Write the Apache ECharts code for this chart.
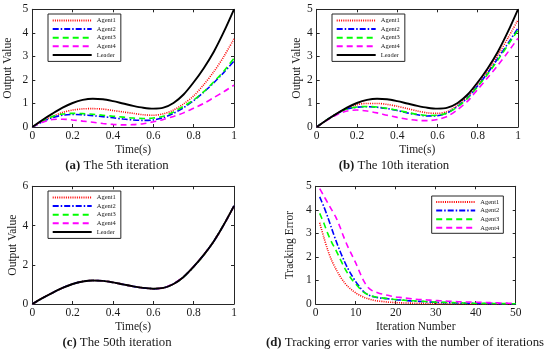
<!DOCTYPE html>
<html><head><meta charset="utf-8">
<script src="https://cdn.jsdelivr.net/npm/echarts@6/dist/echarts.min.js"></script>
<style>html,body{margin:0;padding:0;background:#fff}#c{width:550px;height:354px}</style>
</head><body><div id="c"></div>
<script>
// ---- data ----
const TIME = [0,0.05,0.1,0.15,0.2,0.25,0.3,0.35,0.4,0.45,0.5,0.55,0.6,0.65,0.7,0.75,0.8,0.85,0.9,0.95,1];
const LEADER = [0,0.3,0.57,0.82,1.02,1.15,1.2,1.18,1.1,1.0,0.9,0.82,0.78,0.82,1.02,1.38,1.9,2.5,3.2,4.05,5.0];

// (a) 5th iteration
const IT5_AGENT1 = [0,0.25,0.45,0.62,0.72,0.77,0.78,0.76,0.7,0.64,0.58,0.52,0.5,0.56,0.72,0.98,1.32,1.8,2.35,3.0,3.75];
const IT5_AGENT2 = [0,0.22,0.4,0.5,0.53,0.52,0.48,0.44,0.39,0.34,0.3,0.28,0.3,0.4,0.58,0.82,1.12,1.48,1.88,2.32,2.8];
const IT5_AGENT3 = [0,0.24,0.45,0.55,0.58,0.57,0.54,0.5,0.46,0.42,0.38,0.36,0.38,0.46,0.64,0.88,1.15,1.5,1.92,2.38,2.92];
const IT5_AGENT4 = [0,0.2,0.32,0.33,0.3,0.25,0.2,0.15,0.11,0.09,0.1,0.14,0.22,0.32,0.45,0.6,0.8,1.0,1.25,1.5,1.78];

// (b) 10th iteration
const IT10_AGENT1 = [0,0.3,0.57,0.8,0.95,1.0,1.0,0.96,0.88,0.78,0.68,0.6,0.58,0.66,0.93,1.3,1.8,2.38,3.05,3.78,4.55];
const IT10_AGENT2 = [0,0.3,0.56,0.76,0.84,0.86,0.84,0.78,0.7,0.6,0.52,0.47,0.48,0.6,0.88,1.25,1.75,2.3,2.92,3.55,4.2];
const IT10_AGENT3 = [0,0.3,0.56,0.76,0.85,0.87,0.85,0.79,0.71,0.62,0.54,0.49,0.5,0.6,0.86,1.22,1.72,2.25,2.85,3.48,4.12];
const IT10_AGENT4 = [0,0.28,0.52,0.68,0.72,0.68,0.6,0.5,0.41,0.33,0.28,0.27,0.32,0.46,0.74,1.1,1.6,2.1,2.62,3.18,3.77];

// (c) 50th iteration (agents overlap the leader)
const IT50_AGENT1 = [0,0.3,0.57,0.82,1.02,1.15,1.2,1.18,1.1,1.0,0.9,0.82,0.78,0.82,1.02,1.38,1.9,2.5,3.2,4.05,5.0];
const IT50_AGENT2 = [0,0.3,0.57,0.82,1.02,1.15,1.2,1.18,1.1,1.0,0.9,0.82,0.78,0.82,1.02,1.38,1.9,2.5,3.2,4.05,5.0];
const IT50_AGENT3 = [0,0.3,0.57,0.82,1.02,1.15,1.2,1.18,1.1,1.0,0.9,0.82,0.78,0.82,1.02,1.38,1.9,2.5,3.2,4.05,5.0];
const IT50_AGENT4 = [0,0.3,0.57,0.82,1.02,1.15,1.2,1.18,1.1,1.0,0.9,0.82,0.78,0.83,1.03,1.39,1.91,2.51,3.2,4.04,4.99];

// (d) tracking error vs iteration
const ITER = [1,2,3,4,5,6,7,8,9,10,11,12,13,14,15,16,17,18,19,20,21,22,23,24,25,26,27,28,29,30,31,32,33,34,35,36,37,38,39,40,41,42,43,44,45,46,47,48,49,50];
const ERR_AGENT1 = [3.45,2.85,2.3,1.85,1.5,1.2,0.95,0.75,0.6,0.47,0.37,0.29,0.23,0.18,0.14,0.12,0.1,0.08,0.07,0.06,0.05,0.045,0.04,0.035,0.03,0.027,0.024,0.021,0.018,0.016,0.014,0.013,0.012,0.011,0.01,0.009,0.008,0.008,0.007,0.006,0.006,0.005,0.005,0.004,0.004,0.003,0.003,0.003,0.002,0.002];
const ERR_AGENT2 = [4.55,4.15,3.7,3.2,2.72,2.28,1.88,1.52,1.22,0.95,0.72,0.52,0.4,0.33,0.29,0.26,0.24,0.22,0.2,0.18,0.17,0.16,0.14,0.13,0.12,0.11,0.1,0.09,0.08,0.07,0.065,0.06,0.055,0.05,0.045,0.04,0.036,0.033,0.03,0.027,0.024,0.022,0.02,0.018,0.016,0.014,0.013,0.012,0.011,0.01];
const ERR_AGENT3 = [3.85,3.45,3.0,2.62,2.3,1.95,1.6,1.3,1.05,0.85,0.66,0.5,0.4,0.34,0.3,0.27,0.25,0.23,0.21,0.19,0.18,0.16,0.15,0.14,0.13,0.12,0.11,0.1,0.09,0.08,0.075,0.07,0.065,0.06,0.055,0.05,0.045,0.04,0.036,0.033,0.03,0.027,0.024,0.022,0.02,0.018,0.016,0.014,0.012,0.011];
const ERR_AGENT4 = [4.9,4.6,4.3,4.0,3.7,3.3,2.85,2.45,2.1,1.75,1.35,0.98,0.72,0.58,0.51,0.45,0.41,0.37,0.33,0.3,0.28,0.26,0.24,0.22,0.2,0.19,0.18,0.17,0.16,0.15,0.14,0.13,0.12,0.11,0.1,0.095,0.09,0.085,0.08,0.075,0.07,0.065,0.06,0.055,0.05,0.045,0.04,0.036,0.033,0.03];

const NAMES = ['Agent1','Agent2','Agent3','Agent4','Leader'];
const CAPTIONS = [['(a)',' The 5th iteration'],['(b)',' The 10th iteration'],['(c)',' The 50th iteration'],['(d)',' Tracking error varies with the number of iterations']];

// ---- styles ----
const FONT = '"Liberation Serif","Times New Roman",serif';
const AX = '#262626', TXT = '#1a1a1a';
const STY = {
  Agent1:{color:'#ff0000', type:[1,1.2], width:1.6},
  Agent2:{color:'#0000ff', type:[6,2,1.5,2], width:1.6},
  Agent3:{color:'#00ff00', type:[6,4], width:1.6},
  Agent4:{color:'#ff00ff', type:[6,4], width:1.6},
  Leader:{color:'#000000', type:'solid', width:1.9}
};
const GRIDS = [
  {left:32.3, top:9.3, width:201.7, height:117.7},
  {left:316.7, top:9.3, width:201.3, height:117.7},
  {left:32.3, top:186.3, width:201.7, height:117.7},
  {left:315.7, top:186.3, width:200, height:117.7}
];
const XSPEC = [
  {min:0,max:1,interval:0.2,name:'Time(s)'},
  {min:0,max:1,interval:0.2,name:'Time(s)'},
  {min:0,max:1,interval:0.2,name:'Time(s)'},
  {min:0,max:50,interval:10,name:'Iteration Number'}
];
const YSPEC = [
  {min:0,max:5,interval:1,name:'Output Value',gap:18},
  {min:0,max:5,interval:1,name:'Output Value',gap:11},
  {min:0,max:6,interval:2,name:'Output Value',gap:13.5},
  {min:0,max:5,interval:1,name:'Tracking Error',gap:20}
];

const xAxis = [], yAxis = [];
GRIDS.forEach((g,i)=>{
  const xs = XSPEC[i], ys = YSPEC[i];
  const common = {gridIndex:i, type:'value', splitLine:{show:false},
    axisLine:{show:true,onZero:false,lineStyle:{color:AX,width:1}},
    axisTick:{show:true,inside:true,length:3,lineStyle:{color:AX,width:1}}};
  xAxis.push(Object.assign({}, common, {position:'bottom', min:xs.min, max:xs.max, interval:xs.interval,
    axisLabel:{margin:3, fontSize:11.5, fontFamily:FONT, color:TXT},
    name:xs.name, nameLocation:'middle', nameGap:17,
    nameTextStyle:{fontSize:11.5, fontFamily:FONT, color:TXT}}));
  xAxis.push(Object.assign({}, common, {position:'top', min:xs.min, max:xs.max, interval:xs.interval, axisLabel:{show:false}}));
  yAxis.push(Object.assign({}, common, {position:'left', min:ys.min, max:ys.max, interval:ys.interval,
    axisLabel:{margin:4, fontSize:11.5, fontFamily:FONT, color:TXT},
    name:ys.name, nameLocation:'middle', nameGap:ys.gap,
    nameTextStyle:{fontSize:11.5, fontFamily:FONT, color:TXT}}));
  yAxis.push(Object.assign({}, common, {position:'right', min:ys.min, max:ys.max, interval:ys.interval, axisLabel:{show:false}}));
});

function pairs(xs, ys){ return xs.map((x,k)=>[x, ys[k]]); }
const series = [];
function addLine(gi, name, xs, ys){
  const s = STY[name];
  series.push({type:'line', name:name, xAxisIndex:2*gi, yAxisIndex:2*gi, data:pairs(xs,ys),
    symbol:'none', smooth:0.3, lineStyle:{color:s.color, type:s.type, width:s.width}, itemStyle:{color:s.color}});
}
const PANELS = [
  [IT5_AGENT1,IT5_AGENT2,IT5_AGENT3,IT5_AGENT4,LEADER],
  [IT10_AGENT1,IT10_AGENT2,IT10_AGENT3,IT10_AGENT4,LEADER],
  [IT50_AGENT1,IT50_AGENT2,IT50_AGENT3,IT50_AGENT4,LEADER]
];
PANELS.forEach((arrs,gi)=>arrs.forEach((a,k)=>addLine(gi, NAMES[k], TIME, a)));
[ERR_AGENT1,ERR_AGENT2,ERR_AGENT3,ERR_AGENT4].forEach((a,k)=>addLine(3, NAMES[k], ITER, a));

function legendAt(left, top, names, iw, pad){
  return {left:left, top:top, orient:'vertical', data:names, itemWidth:iw, itemHeight:6, itemGap:0.6,
    padding:pad, borderColor:AX, borderWidth:1, backgroundColor:'#fff', selectedMode:false,
    itemStyle:{opacity:0, color:'rgba(0,0,0,0)', borderWidth:0},
    textStyle:{fontSize:6.5, lineHeight:8, fontFamily:FONT, color:TXT}};
}
const legend = [
  legendAt(48, 14, NAMES, 39, [2.5,5,2.5,3.7]),
  legendAt(332, 14, NAMES, 39, [2.5,5,2.5,3.7]),
  legendAt(48, 191, NAMES, 39, [2.5,5,2.5,3.7]),
  legendAt(431.7, 196, NAMES.slice(0,4), 39, [2,4,1.5,3.5])
];

const CAP_POS = [[117,165.7],[394,165.7],[117,342.7],[405,342.7]];
const graphic = CAPTIONS.map((c,i)=>({type:'text', x:CAP_POS[i][0], y:CAP_POS[i][1], silent:true,
  style:{text:'{b|'+c[0]+'}{n|'+c[1]+'}', align:'center', verticalAlign:'middle', textAlign:'center', textVerticalAlign:'middle',
    fontSize:12.8, fontFamily:FONT, fill:TXT,
    rich:{b:{fontWeight:'bold', fontSize:12.8, fontFamily:FONT, fill:TXT, color:TXT},
          n:{fontSize:12.8, fontFamily:FONT, fill:TXT, color:TXT}}}}));

const chart = echarts.init(document.getElementById('c'), null, {renderer:'canvas'});
chart.setOption({animation:false, backgroundColor:'#fff', grid:GRIDS, xAxis:xAxis, yAxis:yAxis,
  series:series, legend:legend, graphic:graphic});
</script></body></html>
